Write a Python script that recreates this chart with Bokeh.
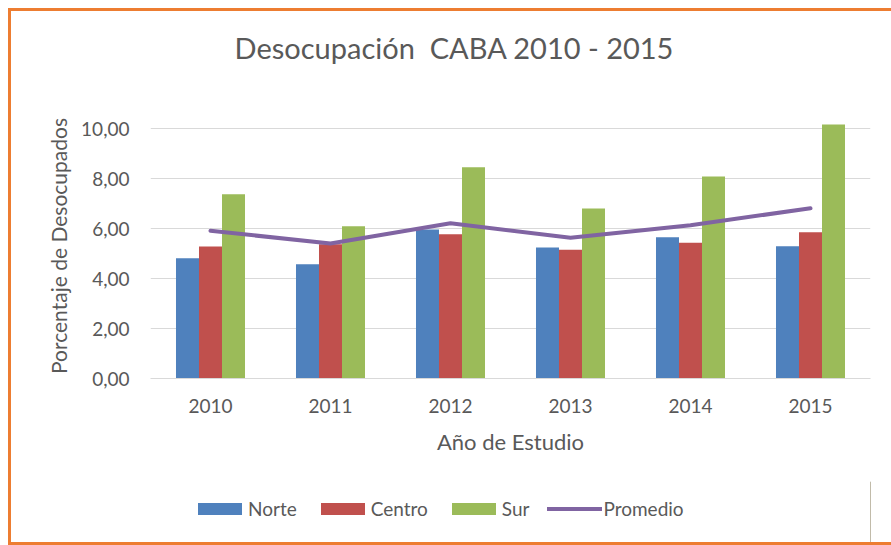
from bokeh.plotting import figure
from bokeh.layouts import column
from bokeh.models import (ColumnDataSource, FactorRange, Range1d, FixedTicker, Legend,
                          LegendItem, Label)
from bokeh.transform import dodge
from bokeh.embed import file_html
from bokeh.resources import INLINE

years = ["2010", "2011", "2012", "2013", "2014", "2015"]
norte = [4.81, 4.57, 5.96, 5.24, 5.65, 5.29]
centro = [5.28, 5.37, 5.77, 5.15, 5.43, 5.85]
sur = [7.37, 6.09, 8.45, 6.80, 8.08, 10.16]
promedio = [5.91, 5.40, 6.21, 5.63, 6.13, 6.81]
y_ticks = [0, 2, 4, 6, 8, 10]
y_tick_labels = ["0,00", "2,00", "4,00", "6,00", "8,00", "10,00"]
series_names = ["Norte", "Centro", "Sur", "Promedio"]

title_text = "Desocupación\u00a0 CABA 2010 - 2015"
x_title = "Año de Estudio"
y_title = "Porcentaje de Desocupados"

FONT = "Lato"
TXT = "#595959"
GRID = "#D9D9D9"
ORANGE = "#ED7D31"
COLORS = ["#4F81BD", "#C0504D", "#9BBB59", "#8064A2"]

src = ColumnDataSource(dict(year=years, norte=norte, centro=centro, sur=sur, promedio=promedio))

W, H0, H1, H2 = 880, 80, 390, 61


def strip(height):
    f = figure(x_range=Range1d(0, 1), y_range=Range1d(0, 1), width=W, height=height,
               output_backend="svg", toolbar_location=None, x_axis_type=None, y_axis_type=None,
               min_border=0)
    f.outline_line_color = None
    f.outline_line_alpha = 0
    f.background_fill_color = "white"
    f.border_fill_color = "white"
    f.grid.grid_line_color = None
    return f


# title strip
p0 = strip(H0)
p0.add_layout(Label(x=304, y=44, x_units="screen", y_units="screen", text=title_text,
                    text_font=FONT, text_font_size="29px", text_color=TXT,
                    text_align="center", text_baseline="middle"))

# main chart
p = figure(x_range=FactorRange(*years), y_range=Range1d(0, 10.6),
           width=W, height=H1, output_backend="svg", toolbar_location=None,
           min_border_left=139, min_border_right=21, min_border_top=22, min_border_bottom=103)
p.background_fill_color = "white"
p.border_fill_color = "white"
p.outline_line_color = None
p.x_range.range_padding = 0
p.x_range.group_padding = 0

bw = 0.1917
p.vbar(x=dodge("year", -bw, range=p.x_range), top="norte", width=bw, source=src,
       fill_color=COLORS[0], line_color=None)
p.vbar(x=dodge("year", 0, range=p.x_range), top="centro", width=bw, source=src,
       fill_color=COLORS[1], line_color=None)
p.vbar(x=dodge("year", bw, range=p.x_range), top="sur", width=bw, source=src,
       fill_color=COLORS[2], line_color=None)
p.line(x="year", y="promedio", source=src, line_color=COLORS[3], line_width=4,
       line_cap="round", line_join="round")

p.xgrid.grid_line_color = None
p.ygrid.grid_line_color = GRID
p.ygrid.grid_line_width = 1
p.yaxis.ticker = FixedTicker(ticks=y_ticks)
p.yaxis.major_label_overrides = {t: l for t, l in zip(y_ticks, y_tick_labels)}

for ax in (p.xaxis[0], p.yaxis[0]):
    ax.major_tick_line_color = None
    ax.minor_tick_line_color = None
    ax.major_label_text_font = FONT
    ax.major_label_text_font_size = "19px"
    ax.major_label_text_color = TXT
    ax.axis_label_text_font = FONT
    ax.axis_label_text_font_style = "normal"
    ax.axis_label_text_color = TXT

p.xaxis.axis_label_text_font_size = "22px"
p.yaxis.axis_label_text_font_size = "21px"
p.xaxis.axis_line_color = GRID
p.yaxis.axis_line_color = None
p.xaxis.axis_label = x_title
p.yaxis.axis_label = y_title
p.xaxis.major_label_standoff = 14
p.xaxis.axis_label_standoff = 12
p.yaxis.major_label_standoff = 15
p.yaxis.axis_label_standoff = 7

# legend strip below the chart
p2 = strip(H2)
legend_renderers = [
    p2.vbar(x=[5], top=[1], width=0.1, fill_color=COLORS[0], line_color=None),
    p2.vbar(x=[5], top=[1], width=0.1, fill_color=COLORS[1], line_color=None),
    p2.vbar(x=[5], top=[1], width=0.1, fill_color=COLORS[2], line_color=None),
    p2.line(x=[5, 6], y=[1, 1], line_color=COLORS[3], line_width=4, line_cap="round"),
]
legend = Legend(items=[LegendItem(label=n, renderers=[r]) for n, r in zip(series_names, legend_renderers)],
                orientation="horizontal", location=(42, 22),
                glyph_width=55, glyph_height=15, label_standoff=1, spacing=18,
                label_text_font=FONT, label_text_font_size="19px", label_text_color=TXT,
                border_line_color=None, background_fill_alpha=0, padding=0, margin=0)
p2.add_layout(legend, "center")

layout = column(p0, p, p2, spacing=0)
layout.margin = (8, 0, 0, 8)
layout.styles = {"border-left": f"3px solid {ORANGE}", "border-top": f"3px solid {ORANGE}",
                 "border-bottom": f"3px solid {ORANGE}"}

open("out.html", "w").write(file_html(layout, INLINE))
